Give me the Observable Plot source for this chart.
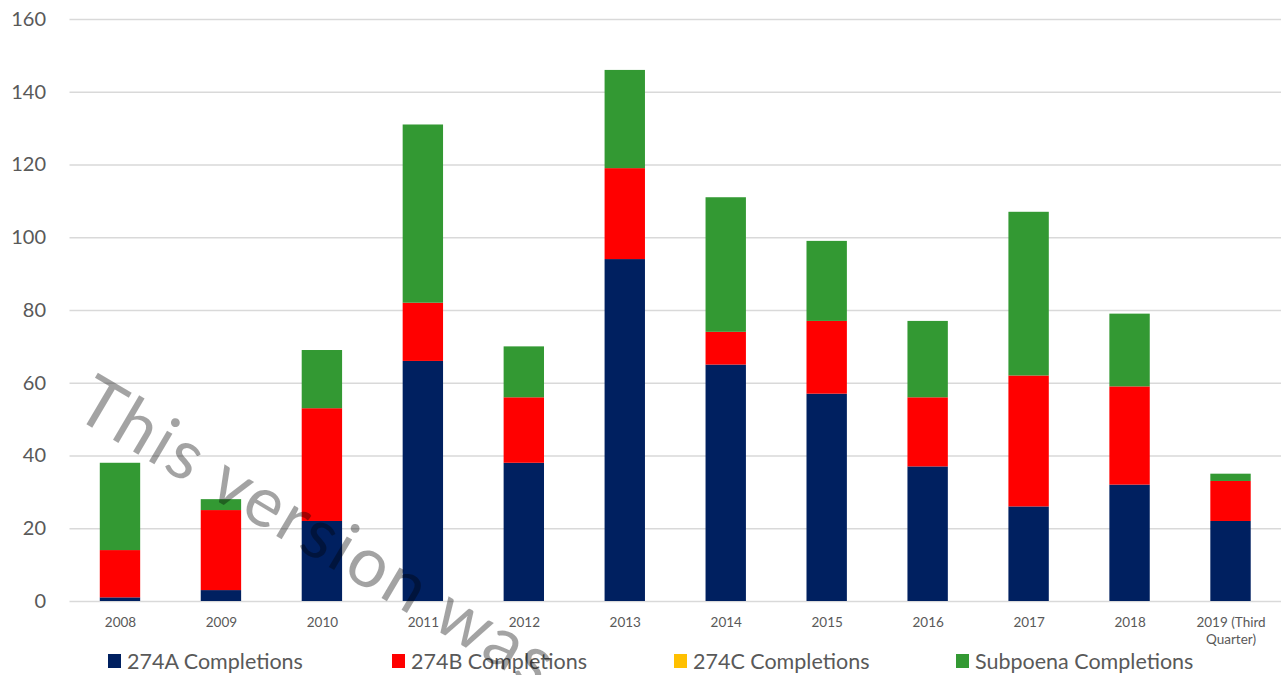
<!DOCTYPE html>
<html>
<head>
<meta charset="utf-8">
<script src="https://cdn.jsdelivr.net/npm/d3@7"></script>
<script src="https://cdn.jsdelivr.net/npm/@observablehq/plot@0.6"></script>
<style>
  html, body { margin: 0; padding: 0; background: #ffffff; }
  #wrap { position: relative; width: 1281px; height: 675px; overflow: hidden; font-family: Lato, "Open Sans", sans-serif; }
  #chart svg { display: block; }
  #legend { position: absolute; left: 0; top: 648px; width: 1281px; height: 26px; }
  .item { position: absolute; top: 0; display: flex; align-items: center; height: 26px; font-size: 21.5px; color: #595959; white-space: nowrap; }
  .sw { width: 13px; height: 14px; margin-right: 6px; flex: none; }
  #wm { position: absolute; left: 103px; top: 362px; transform-origin: 0 0; transform: rotate(30.5deg);
        font-family: Lato, sans-serif; font-weight: 400; font-size: 70px; letter-spacing: 2.5px; line-height: 1; color: rgba(0,0,0,0.36);
        white-space: nowrap; pointer-events: none; }
</style>
</head>
<body>
<div id="wrap">
  <div id="chart"></div>
  <div id="legend"></div>
  <div id="wm">This version was</div>
</div>
<script>
// ---- data ----
const years = ["2008", "2009", "2010", "2011", "2012", "2013", "2014", "2015", "2016", "2017", "2018", "2019 (Third Quarter)"];
const a274 = [1, 3, 22, 66, 38, 94, 65, 57, 37, 26, 32, 22];
const b274 = [13, 22, 31, 16, 18, 25, 9, 20, 19, 36, 27, 11];
const c274 = [0, 0, 0, 0, 0, 0, 0, 0, 0, 0, 0, 0];
const subpoena = [24, 3, 16, 49, 14, 27, 37, 22, 21, 45, 20, 2];
const seriesNames = ["274A Completions", "274B Completions", "274C Completions", "Subpoena Completions"];
const seriesColors = ["#002060", "#ff0000", "#ffc000", "#339933"];
const yTicks = [0, 20, 40, 60, 80, 100, 120, 140, 160];
const legendX = [108, 392, 674, 956];

const seriesValues = [a274, b274, c274, subpoena];
const rows = [];
years.forEach((yr, i) => {
  seriesNames.forEach((s, k) => rows.push({year: yr, series: s, value: seriesValues[k][i]}));
});

const chart = Plot.plot({
  width: 1281,
  height: 652,
  marginLeft: 69.5,
  marginRight: 0,
  marginTop: 19,
  marginBottom: 51,
  style: {fontFamily: "Lato, 'Open Sans', sans-serif", color: "#595959", background: "transparent"},
  x: {type: "band", domain: years, paddingInner: 0.6, paddingOuter: 0.3, round: false, axis: null, label: null},
  y: {domain: [0, 160], axis: null, label: null},
  color: {domain: seriesNames, range: seriesColors},
  marks: [
    Plot.gridY(yTicks, {stroke: "#d9d9d9", strokeOpacity: 1, strokeWidth: 1.6}),
    Plot.barY(rows, {x: "year", y: "value", fill: "series", order: seriesNames}),
    Plot.axisY(yTicks, {tickSize: 0, tickPadding: 24, fontSize: 20, fill: "#595959", label: null}),
    Plot.axisX({tickSize: 0, tickPadding: 14, fontSize: 13.5, lineHeight: 1.25, fill: "#595959", label: null,
      tickFormat: d => d.replace(" (Third ", " (Third\n")})
  ]
});
document.getElementById("chart").appendChild(chart);

const legend = document.getElementById("legend");
seriesNames.forEach((s, k) => {
  const it = document.createElement("div");
  it.className = "item";
  it.style.left = legendX[k] + "px";
  const sw = document.createElement("span");
  sw.className = "sw";
  sw.style.background = seriesColors[k];
  const tx = document.createElement("span");
  tx.textContent = s;
  it.appendChild(sw);
  it.appendChild(tx);
  legend.appendChild(it);
});
</script>
</body>
</html>
